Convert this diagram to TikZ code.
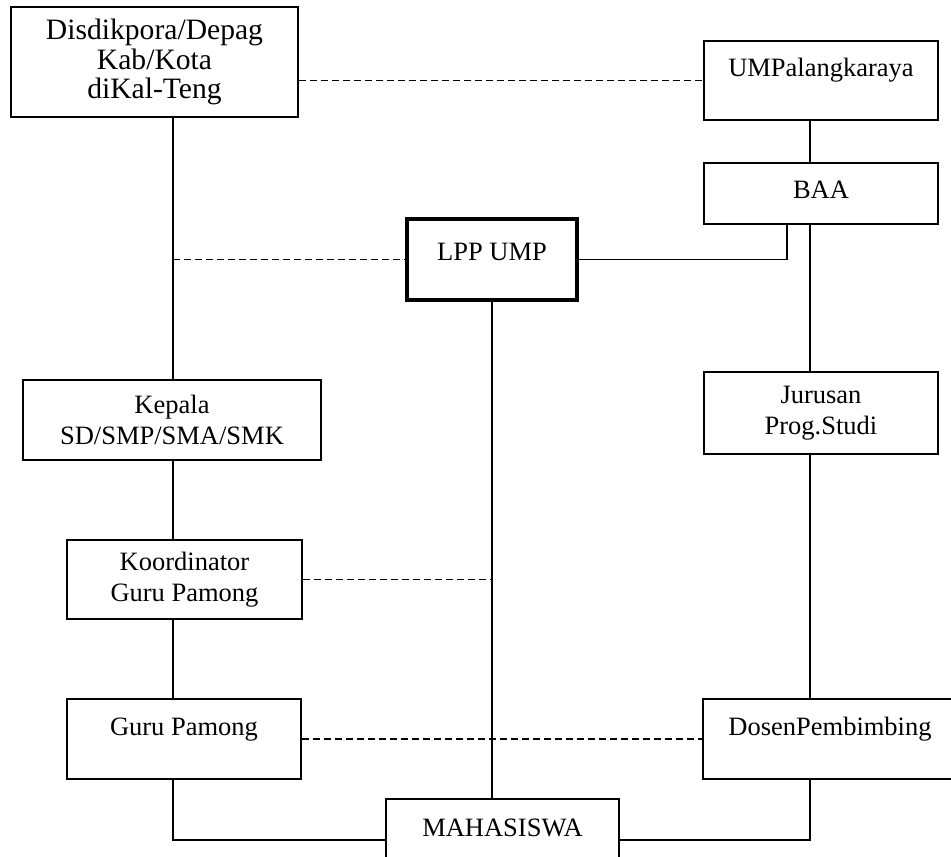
\documentclass[tikz,border=0pt]{standalone}
\usepackage{fontspec}
\setmainfont{Liberation Serif}

\begin{document}
\begin{tikzpicture}[x=0.5pt,y=-0.5pt,
  unit/.style={draw,line width=0.8pt,align=center,inner sep=0pt,
    font=\fontsize{13.25}{15.5}\selectfont},
  toptext/.style={text height=9pt,text depth=13pt},
  link/.style={black,line width=0.8pt},
  peer/.style={black,line width=0.8pt,dash pattern=on 3.5pt off 2pt}]
  % Coordinates are pixels of the page, y counted downwards.
  % DosenPembimbing and MAHASISWA run off the right and bottom edges.
  \useasboundingbox (0,0) rectangle (951,856);
  \clip (0,0) rectangle (951,856);

  \coordinate (spineL) at (173,0);
  \coordinate (spineR) at (810,0);
  \coordinate (baaTap) at (787,0);

  \node[unit,font=\fontsize{14.8}{14.6}\selectfont,
    minimum width=143.5pt,minimum height=55pt] (dinas) at (154.5,62)
    {Disdikpora/Depag\\Kab/Kota\\diKal-Teng};
  \node[unit,toptext,minimum width=117pt,minimum height=39.5pt] (ump)
    at (821,80.5) {UMPalangkaraya};
  \node[unit,text height=9pt,text depth=4.5pt,minimum width=117pt,
    minimum height=30.5pt] (baa) at (821,193.5) {BAA};
  \node[unit,line width=2pt,text height=9pt,text depth=8.5pt,
    minimum width=85pt,minimum height=40.5pt] (lpp) at (492,259.5) {LPP UMP};
  \node[unit,minimum width=149pt,minimum height=40pt] (kepala) at (172,420)
    {Kepala\\SD/SMP/SMA/SMK};
  \node[unit,minimum width=117pt,minimum height=41pt] (jurusan) at (821,413)
    {Jurusan\\Prog.Studi};
  \node[unit,minimum width=117.5pt,minimum height=39.5pt] (koord)
    at (184.5,579.5) {Koordinator\\Guru Pamong};
  \node[unit,toptext,minimum width=117pt,minimum height=40pt] (guru)
    at (184,739) {Guru Pamong};
  \node[unit,toptext,minimum width=127pt,minimum height=40pt] (dosen)
    at (830,739) {DosenPembimbing};
  \node[unit,toptext,minimum width=116.5pt,minimum height=41pt] (mhs)
    at (502.5,840) {MAHASISWA};

  % school side
  \draw[link] (spineL |- dinas.south) -- (spineL |- kepala.north);
  \draw[link] (spineL |- kepala.south) -- (spineL |- koord.north);
  \draw[link] (spineL |- koord.south) -- (spineL |- guru.north);
  \draw[link] (spineL |- guru.south) |- (mhs.west);

  % university side
  \draw[link] (spineR |- ump.south) -- (spineR |- baa.north);
  \draw[link] (spineR |- baa.south) -- (spineR |- jurusan.north);
  \draw[link] (spineR |- jurusan.south) -- (spineR |- dosen.north);
  \draw[link] (spineR |- dosen.south) |- (mhs.east);
  \draw[link] (lpp.east) -| (baaTap |- baa.south);
  \draw[link] (lpp.south) -- (lpp.south |- mhs.north);

  % coordination
  \draw[peer] (dinas.east |- ump.west) -- (ump.west);
  \draw[peer] (spineL |- lpp.west) -- (lpp.west);
  \draw[peer] (koord.east) -- (koord.east -| lpp.south);
  \draw[peer] (guru.east) -- (dosen.west);
\end{tikzpicture}
\end{document}
